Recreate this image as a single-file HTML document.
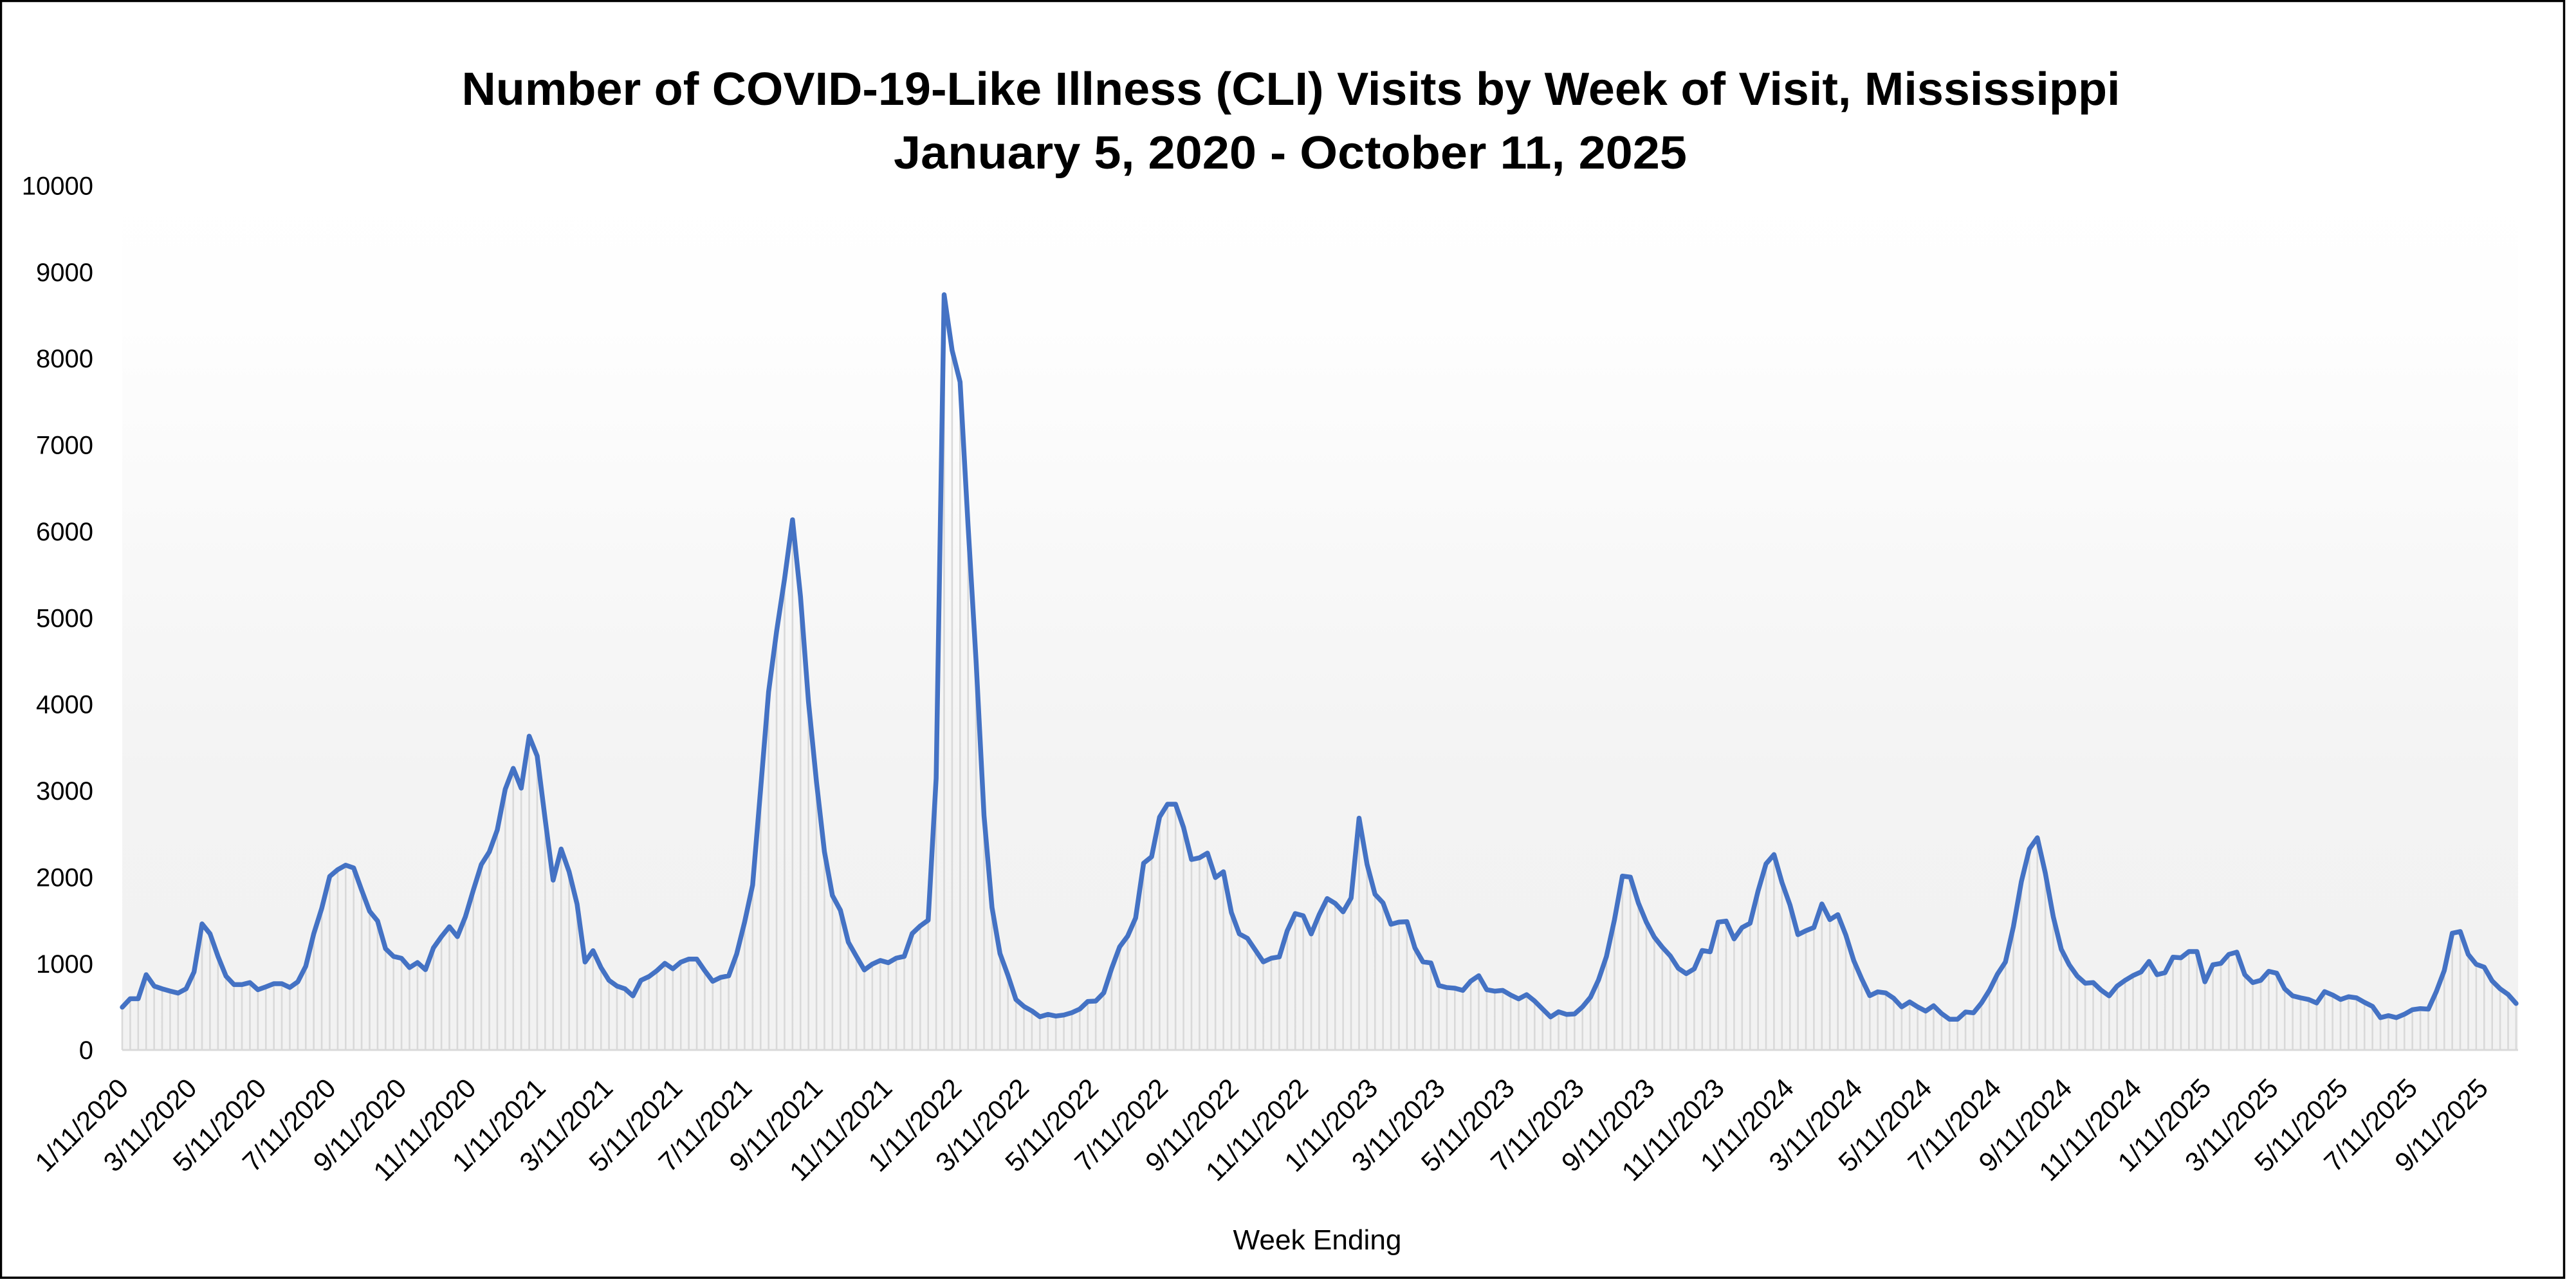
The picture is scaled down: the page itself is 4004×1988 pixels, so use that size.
<!DOCTYPE html>
<html>
<head>
<meta charset="utf-8">
<style>
html,body{margin:0;padding:0;background:#fff;}
svg{display:block;}
text{font-family:"Liberation Sans",Arial,sans-serif;fill:#000;}
</style>
</head>
<body>
<svg width="4004" height="1988" viewBox="0 0 4004 1988" xmlns="http://www.w3.org/2000/svg">
<defs>
<linearGradient id="bg" gradientUnits="userSpaceOnUse" x1="0" y1="284" x2="0" y2="1632">
<stop offset="0" stop-color="#ffffff"/>
<stop offset="0.15" stop-color="#fefefe"/>
<stop offset="0.45" stop-color="#f8f8f8"/>
<stop offset="0.68" stop-color="#f3f3f3"/>
<stop offset="1" stop-color="#f2f2f2"/>
</linearGradient>
</defs>
<rect x="0" y="0" width="4004" height="1988" fill="#fff"/>
<rect x="190" y="284" width="3724" height="1348" fill="url(#bg)"/>

<!-- drop lines -->
<g transform="translate(190,1632) scale(12.403,-0.1348)">
<path fill="none" stroke="#d9d9d9" stroke-width="2.6" vector-effect="non-scaling-stroke" d="M0 0V493M1 0V591M2 0V591M3 0V868M4 0V737M5 0V705M6 0V679M7 0V656M8 0V705M9 0V900M10 0V1454M11 0V1340M12 0V1079M13 0V852M14 0V754M15 0V754M16 0V777M17 0V695M18 0V728M19 0V764M20 0V764M21 0V721M22 0V786M23 0V966M24 0V1340M25 0V1633M26 0V2001M27 0V2079M28 0V2131M29 0V2099M30 0V1844M31 0V1600M32 0V1487M33 0V1168M34 0V1079M35 0V1057M36 0V950M37 0V1008M38 0V926M39 0V1177M40 0V1307M41 0V1421M42 0V1307M43 0V1535M44 0V1844M45 0V2138M46 0V2284M47 0V2537M48 0V3007M49 0V3247M50 0V3019M51 0V3618M52 0V3390M53 0V2661M54 0V1958M55 0V2317M56 0V2056M57 0V1682M58 0V1014M59 0V1145M60 0V950M61 0V803M62 0V737M63 0V705M64 0V624M65 0V803M66 0V846M67 0V914M68 0V999M69 0V936M70 0V1013M71 0V1048M72 0V1048M73 0V914M74 0V792M75 0V837M76 0V855M77 0V1107M78 0V1476M79 0V1902M80 0V3004M81 0V4128M82 0V4824M83 0V5431M84 0V6114M85 0V5228M86 0V4015M87 0V3093M88 0V2285M89 0V1781M90 0V1611M91 0V1242M92 0V1080M93 0V923M94 0V990M95 0V1032M96 0V1006M97 0V1059M98 0V1079M99 0V1343M100 0V1430M101 0V1496M102 0V3132M103 0V8709M104 0V8067M105 0V7702M106 0V6046M107 0V4490M108 0V2701M109 0V1642M110 0V1112M111 0V860M112 0V582M113 0V502M114 0V450M115 0V383M116 0V410M117 0V391M118 0V403M119 0V430M120 0V472M121 0V559M122 0V564M123 0V658M124 0V942M125 0V1190M126 0V1313M127 0V1523M128 0V2154M129 0V2228M130 0V2686M131 0V2834M132 0V2834M133 0V2567M134 0V2196M135 0V2216M136 0V2270M137 0V1988M138 0V2055M139 0V1585M140 0V1338M141 0V1288M142 0V1152M143 0V1016M144 0V1058M145 0V1073M146 0V1375M147 0V1573M148 0V1548M149 0V1338M150 0V1560M151 0V1746M152 0V1691M153 0V1593M154 0V1752M155 0V2673M156 0V2141M157 0V1795M158 0V1696M159 0V1449M160 0V1474M161 0V1479M162 0V1177M163 0V1016M164 0V1004M165 0V744M166 0V720M167 0V712M168 0V687M169 0V794M170 0V856M171 0V695M172 0V678M173 0V687M174 0V633M175 0V589M176 0V638M177 0V564M178 0V472M179 0V381M180 0V440M181 0V410M182 0V415M183 0V497M184 0V608M185 0V806M186 0V1078M187 0V1499M188 0V2005M189 0V1993M190 0V1696M191 0V1474M192 0V1301M193 0V1185M194 0V1085M195 0V942M196 0V880M197 0V935M198 0V1147M199 0V1132M200 0V1474M201 0V1486M202 0V1281M203 0V1412M204 0V1461M205 0V1832M206 0V2146M207 0V2253M208 0V1931M209 0V1672M210 0V1330M211 0V1375M212 0V1412M213 0V1684M214 0V1503M215 0V1560M216 0V1325M217 0V1029M218 0V818M219 0V626M220 0V670M221 0V658M222 0V596M223 0V497M224 0V554M225 0V497M226 0V448M227 0V510M228 0V420M229 0V354M230 0V354M231 0V438M232 0V428M233 0V542M234 0V689M235 0V874M236 0V1014M237 0V1421M238 0V1942M239 0V2317M240 0V2447M241 0V2040M242 0V1535M243 0V1161M244 0V982M245 0V852M246 0V770M247 0V777M248 0V689M249 0V624M250 0V737M251 0V803M252 0V858M253 0V900M254 0V1021M255 0V868M256 0V891M257 0V1070M258 0V1063M259 0V1135M260 0V1135M261 0V786M262 0V982M263 0V998M264 0V1102M265 0V1128M266 0V868M267 0V777M268 0V803M269 0V907M270 0V885M271 0V705M272 0V624M273 0V601M274 0V582M275 0V542M276 0V673M277 0V634M278 0V582M279 0V614M280 0V601M281 0V549M282 0V503M283 0V373M284 0V396M285 0V373M286 0V412M287 0V464M288 0V477M289 0V471M290 0V673M291 0V917M292 0V1346M293 0V1366M294 0V1102M295 0V988M296 0V955M297 0V796M298 0V705M299 0V640M300 0V536"/>
</g>

<!-- axis baseline -->
<line x1="190" y1="1632" x2="3914" y2="1632" stroke="#d9d9d9" stroke-width="3"/>

<!-- series line -->
<g transform="translate(190,1632) scale(12.403,-0.1348)">
<polyline fill="none" stroke="#4472c4" stroke-width="7.5" stroke-linejoin="round" stroke-linecap="round" vector-effect="non-scaling-stroke" points="0,493 1,591 2,591 3,868 4,737 5,705 6,679 7,656 8,705 9,900 10,1454 11,1340 12,1079 13,852 14,754 15,754 16,777 17,695 18,728 19,764 20,764 21,721 22,786 23,966 24,1340 25,1633 26,2001 27,2079 28,2131 29,2099 30,1844 31,1600 32,1487 33,1168 34,1079 35,1057 36,950 37,1008 38,926 39,1177 40,1307 41,1421 42,1307 43,1535 44,1844 45,2138 46,2284 47,2537 48,3007 49,3247 50,3019 51,3618 52,3390 53,2661 54,1958 55,2317 56,2056 57,1682 58,1014 59,1145 60,950 61,803 62,737 63,705 64,624 65,803 66,846 67,914 68,999 69,936 70,1013 71,1048 72,1048 73,914 74,792 75,837 76,855 77,1107 78,1476 79,1902 80,3004 81,4128 82,4824 83,5431 84,6114 85,5228 86,4015 87,3093 88,2285 89,1781 90,1611 91,1242 92,1080 93,923 94,990 95,1032 96,1006 97,1059 98,1079 99,1343 100,1430 101,1496 102,3132 103,8709 104,8067 105,7702 106,6046 107,4490 108,2701 109,1642 110,1112 111,860 112,582 113,502 114,450 115,383 116,410 117,391 118,403 119,430 120,472 121,559 122,564 123,658 124,942 125,1190 126,1313 127,1523 128,2154 129,2228 130,2686 131,2834 132,2834 133,2567 134,2196 135,2216 136,2270 137,1988 138,2055 139,1585 140,1338 141,1288 142,1152 143,1016 144,1058 145,1073 146,1375 147,1573 148,1548 149,1338 150,1560 151,1746 152,1691 153,1593 154,1752 155,2673 156,2141 157,1795 158,1696 159,1449 160,1474 161,1479 162,1177 163,1016 164,1004 165,744 166,720 167,712 168,687 169,794 170,856 171,695 172,678 173,687 174,633 175,589 176,638 177,564 178,472 179,381 180,440 181,410 182,415 183,497 184,608 185,806 186,1078 187,1499 188,2005 189,1993 190,1696 191,1474 192,1301 193,1185 194,1085 195,942 196,880 197,935 198,1147 199,1132 200,1474 201,1486 202,1281 203,1412 204,1461 205,1832 206,2146 207,2253 208,1931 209,1672 210,1330 211,1375 212,1412 213,1684 214,1503 215,1560 216,1325 217,1029 218,818 219,626 220,670 221,658 222,596 223,497 224,554 225,497 226,448 227,510 228,420 229,354 230,354 231,438 232,428 233,542 234,689 235,874 236,1014 237,1421 238,1942 239,2317 240,2447 241,2040 242,1535 243,1161 244,982 245,852 246,770 247,777 248,689 249,624 250,737 251,803 252,858 253,900 254,1021 255,868 256,891 257,1070 258,1063 259,1135 260,1135 261,786 262,982 263,998 264,1102 265,1128 266,868 267,777 268,803 269,907 270,885 271,705 272,624 273,601 274,582 275,542 276,673 277,634 278,582 279,614 280,601 281,549 282,503 283,373 284,396 285,373 286,412 287,464 288,477 289,471 290,673 291,917 292,1346 293,1366 294,1102 295,988 296,955 297,796 298,705 299,640 300,536"/>
</g>

<!-- title -->
<text x="2006.5" y="163" text-anchor="middle" font-size="72" font-weight="bold" textLength="2578" lengthAdjust="spacingAndGlyphs">Number of COVID-19-Like Illness (CLI) Visits by Week of Visit, Mississippi</text>
<text x="2005.5" y="262" text-anchor="middle" font-size="72" font-weight="bold" textLength="1233" lengthAdjust="spacingAndGlyphs">January 5, 2020 - October 11, 2025</text>

<!-- y axis labels -->
<g font-size="40" text-anchor="end">
<text x="145" y="1646.2">0</text>
<text x="145" y="1511.8">1000</text>
<text x="145" y="1377.5">2000</text>
<text x="145" y="1243.1">3000</text>
<text x="145" y="1108.7">4000</text>
<text x="145" y="974.4">5000</text>
<text x="145" y="840.0">6000</text>
<text x="145" y="705.6">7000</text>
<text x="145" y="571.2">8000</text>
<text x="145" y="436.9">9000</text>
<text x="145" y="302.5">10000</text>
</g>

<!-- x axis labels -->
<g font-size="42" text-anchor="end">
<text transform="translate(202,1694) rotate(-45)">1/11/2020</text>
<text transform="translate(308.3,1694) rotate(-45)">3/11/2020</text>
<text transform="translate(416.4,1694) rotate(-45)">5/11/2020</text>
<text transform="translate(524.5,1694) rotate(-45)">7/11/2020</text>
<text transform="translate(634.3,1694) rotate(-45)">9/11/2020</text>
<text transform="translate(742.4,1694) rotate(-45)">11/11/2020</text>
<text transform="translate(850.5,1694) rotate(-45)">1/11/2021</text>
<text transform="translate(955.0,1694) rotate(-45)">3/11/2021</text>
<text transform="translate(1063.1,1694) rotate(-45)">5/11/2021</text>
<text transform="translate(1171.2,1694) rotate(-45)">7/11/2021</text>
<text transform="translate(1281.1,1694) rotate(-45)">9/11/2021</text>
<text transform="translate(1389.1,1694) rotate(-45)">11/11/2021</text>
<text transform="translate(1497.2,1694) rotate(-45)">1/11/2022</text>
<text transform="translate(1601.8,1694) rotate(-45)">3/11/2022</text>
<text transform="translate(1709.9,1694) rotate(-45)">5/11/2022</text>
<text transform="translate(1817.9,1694) rotate(-45)">7/11/2022</text>
<text transform="translate(1927.8,1694) rotate(-45)">9/11/2022</text>
<text transform="translate(2035.9,1694) rotate(-45)">11/11/2022</text>
<text transform="translate(2144.0,1694) rotate(-45)">1/11/2023</text>
<text transform="translate(2248.5,1694) rotate(-45)">3/11/2023</text>
<text transform="translate(2356.6,1694) rotate(-45)">5/11/2023</text>
<text transform="translate(2464.7,1694) rotate(-45)">7/11/2023</text>
<text transform="translate(2574.5,1694) rotate(-45)">9/11/2023</text>
<text transform="translate(2682.6,1694) rotate(-45)">11/11/2023</text>
<text transform="translate(2790.7,1694) rotate(-45)">1/11/2024</text>
<text transform="translate(2897.0,1694) rotate(-45)">3/11/2024</text>
<text transform="translate(3005.1,1694) rotate(-45)">5/11/2024</text>
<text transform="translate(3113.2,1694) rotate(-45)">7/11/2024</text>
<text transform="translate(3223.0,1694) rotate(-45)">9/11/2024</text>
<text transform="translate(3331.1,1694) rotate(-45)">11/11/2024</text>
<text transform="translate(3439.2,1694) rotate(-45)">1/11/2025</text>
<text transform="translate(3543.7,1694) rotate(-45)">3/11/2025</text>
<text transform="translate(3651.8,1694) rotate(-45)">5/11/2025</text>
<text transform="translate(3759.9,1694) rotate(-45)">7/11/2025</text>
<text transform="translate(3869.8,1694) rotate(-45)">9/11/2025</text>
</g>

<!-- x axis title -->
<text x="2047.5" y="1942" text-anchor="middle" font-size="44" textLength="262" lengthAdjust="spacingAndGlyphs">Week Ending</text>

<!-- chart border -->
<rect x="1.5" y="1.5" width="3984" height="1984.5" fill="none" stroke="#000" stroke-width="3.5"/>
</svg>
</body>
</html>
